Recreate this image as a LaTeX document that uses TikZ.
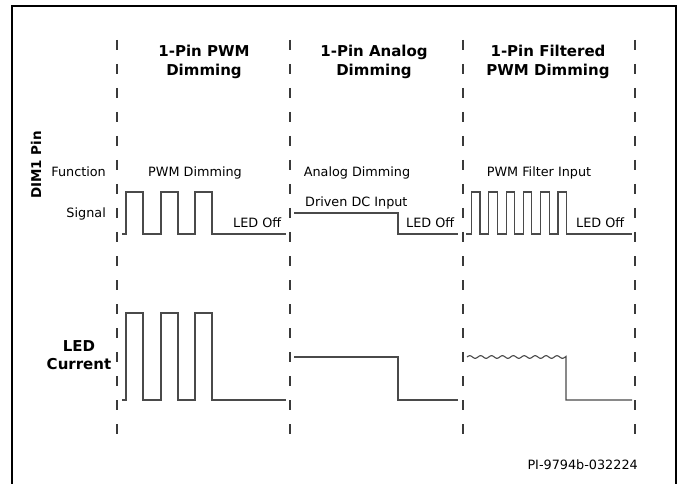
\documentclass[tikz,border=0pt]{standalone}
\usepackage{fontspec}
\setmainfont{DejaVu Sans}
\usetikzlibrary{positioning}
\definecolor{wavegray}{HTML}{4A4A4A}
\definecolor{guidegray}{HTML}{3A3A3A}
\tikzset{
  headtxt/.style={font=\fontsize{15}{19}\selectfont\bfseries, align=center, inner sep=0pt},
  lbl/.style={font=\fontsize{12.8}{15}\selectfont, inner sep=0pt},
  wave/.style={color=wavegray, line width=1.1pt},
  guide/.style={color=guidegray, line width=1.1pt, dash pattern=on 10pt off 14pt},
}
\begin{document}
\begin{tikzpicture}[x=1pt,y=-1pt]
	\useasboundingbox (0,0) rectangle (678,484);
	% frame
	\draw[line width=2.5pt] (12,484) |- (676,6) -- (676,484);
	% column guides
	\foreach \gx in {117,290,463,635}
		\draw[guide] (\gx,40) -- (\gx,442);
	% column heads (base = last line)
	\node[headtxt,anchor=base] (headpwm) at (204,76) {1-Pin PWM\\Dimming};
	\node[headtxt,anchor=base] (headana) at (374,76) {1-Pin Analog\\Dimming};
	\node[headtxt,anchor=base] (headfil) at (548,76) {1-Pin Filtered\\PWM Dimming};
	% row labels
	\node[font=\fontsize{13.5}{16}\selectfont\bfseries,rotate=90,inner sep=0pt] (dimpin) at (36,165) {DIM1 Pin};
	\node[lbl,anchor=base east] (function) at (106,177) {Function};
	\node[lbl,anchor=base east] (signal) at (106,218) {Signal};
	\node[headtxt,font=\fontsize{15}{18}\selectfont\bfseries,anchor=base] (ledcur) at (79,369) {LED\\Current};
	% functions
	\node[lbl,anchor=base] (fpwm) at (195,177) {PWM Dimming};
	\node[lbl,anchor=base] (fana) at (357,177) {Analog Dimming};
	\node[lbl,anchor=base] (ffil) at (539,177) {PWM Filter Input};
	\node[lbl,anchor=base west] (dcin) at (305,207) {Driven DC Input};
	\node[lbl,anchor=base west] (offpwm) at (233,227) {LED Off};
	\node[lbl,anchor=base west] (offana) at (406,227) {LED Off};
	\node[lbl,anchor=base west] (offfil) at (576,227) {LED Off};
	% DIM1 signals
	\draw[wave] (122,234) -- (126,234) -- (126,192) -- (143,192) -- (143,234) -- (161,234) -- (161,192) -- (178,192)
		-- (178,234) -- (195,234) -- (195,192) -- (212,192) -- (212,234) -- (286,234);
	\draw[wave] (294,213) -- (398,213) -- (398,234) -- (458,234);
	\draw[wave] (466,234) foreach \k in {0,...,5} { -- ({471.5+17.3*\k},234) -- ++(0,-42) -- ++(8.5,0) -- ++(0,42) } -- (632,234);
	% LED current
	\draw[wave] (122,400) -- (126,400) -- (126,313) -- (143,313) -- (143,400) -- (161,400) -- (161,313) -- (178,313)
		-- (178,400) -- (195,400) -- (195,313) -- (212,313) -- (212,400) -- (286,400);
	\draw[wave] (294,357) -- (398,357) -- (398,400) -- (458,400);
	\draw[wave] plot[domain=467:566,samples=200] (\x,{357-1.3*sin((\x-467)*33)}) -- (566,400) -- (632,400);
	% drawing number
	\node[lbl,anchor=base east] (docno) at (638,469) {PI-9794b-032224};
\end{tikzpicture}
\end{document}
